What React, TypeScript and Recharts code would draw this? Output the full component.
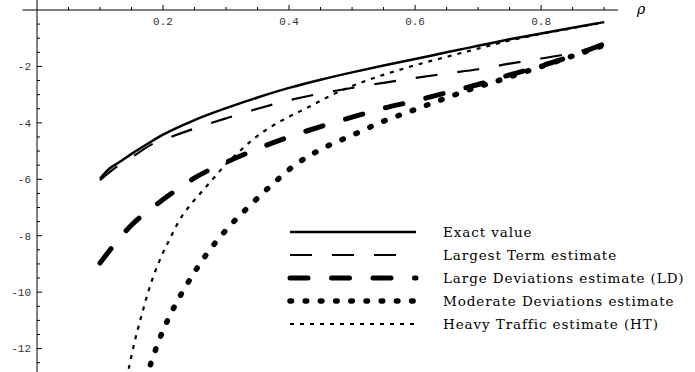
import React from 'react';
import { LineChart, Line, XAxis, YAxis, ReferenceLine, Legend } from 'recharts';

// ---- data ----
const exactRho = [0.1, 0.115, 0.131, 0.15, 0.175, 0.2, 0.25, 0.3, 0.35, 0.4, 0.45, 0.5, 0.55, 0.6, 0.65, 0.7, 0.75, 0.8, 0.85, 0.9];
const exactVal = [-5.98, -5.62, -5.39, -5.1, -4.75, -4.42, -3.9, -3.48, -3.1, -2.76, -2.47, -2.21, -1.97, -1.74, -1.5, -1.27, -1.04, -0.83, -0.63, -0.43];

const ltRho = [0.1, 0.125, 0.155, 0.184, 0.2, 0.25, 0.3, 0.35, 0.4, 0.45, 0.5, 0.55, 0.6, 0.65, 0.7, 0.75, 0.8, 0.85, 0.9];
const ltVal = [-6.03, -5.58, -5.15, -4.74, -4.6, -4.2, -3.84, -3.5, -3.2, -2.96, -2.76, -2.58, -2.41, -2.25, -2.1, -1.9, -1.72, -1.52, -1.22];

const ldRho = [0.1, 0.125, 0.15, 0.175, 0.2, 0.25, 0.3, 0.35, 0.4, 0.45, 0.5, 0.55, 0.6, 0.65, 0.7, 0.75, 0.8, 0.85, 0.9];
const ldVal = [-8.97, -8.25, -7.62, -7.14, -6.72, -5.95, -5.4, -4.92, -4.5, -4.13, -3.8, -3.48, -3.22, -2.93, -2.64, -2.3, -1.98, -1.62, -1.2];

const mdRho = [0.165, 0.178, 0.195, 0.216, 0.24, 0.268, 0.3, 0.335, 0.372, 0.409, 0.454, 0.5, 0.549, 0.596, 0.643, 0.692, 0.738, 0.81, 0.9];
const mdVal = [-13.6, -12.7, -11.63, -10.6, -9.65, -8.69, -7.8, -6.99, -6.21, -5.5, -4.9, -4.44, -3.95, -3.56, -3.17, -2.78, -2.46, -1.93, -1.25];

const htRho = [0.138, 0.145, 0.155, 0.165, 0.175, 0.185, 0.197, 0.211, 0.226, 0.243, 0.261, 0.282, 0.295, 0.32, 0.343, 0.372, 0.401, 0.432, 0.46, 0.491, 0.523, 0.555, 0.6, 0.65, 0.7, 0.75, 0.8, 0.85, 0.9];
const htVal = [-13.4, -12.76, -11.75, -10.9, -10.1, -9.42, -8.75, -8.1, -7.45, -6.92, -6.45, -5.92, -5.58, -5.04, -4.58, -4.13, -3.77, -3.43, -3.1, -2.78, -2.5, -2.26, -1.96, -1.66, -1.37, -1.08, -0.85, -0.64, -0.44];

const seriesNames = [
  'Exact value',
  'Largest Term estimate',
  'Large Deviations estimate (LD)',
  'Moderate Deviations estimate',
  'Heavy Traffic estimate (HT)',
];

const xTicks = [0.05, 0.1, 0.15, 0.2, 0.25, 0.3, 0.35, 0.4, 0.45, 0.5, 0.55, 0.6, 0.65, 0.7, 0.75, 0.8, 0.85, 0.9];
const xLabelTicks = [0.2, 0.4, 0.6, 0.8];
const yTicks = [-12.5, -12, -11.5, -11, -10.5, -10, -9.5, -9, -8.5, -8, -7.5, -7, -6.5, -6, -5.5, -5, -4.5, -4, -3.5, -3, -2.5, -2, -1.5, -1, -0.5];
const yLabelTicks = [-12, -10, -8, -6, -4, -2];

const xDomain = [0, 0.922];
const yDomain = [-12.83, 0];

// ---- helpers ----
const rows = (xs: number[], ys: number[]) => xs.map((rho, i) => ({ rho, v: ys[i] }));
const isIn = (arr: number[], v: number) => arr.some((a) => Math.abs(a - v) < 1e-9);

const styles = [
  { strokeWidth: 2.5, dash: undefined as string | undefined, cap: 'butt' },
  { strokeWidth: 2.2, dash: '22 20', cap: 'butt' },
  { strokeWidth: 5, dash: '18 23.5', cap: 'round' },
  { strokeWidth: 5.5, dash: '1.5 13.7', cap: 'round' },
  { strokeWidth: 2.2, dash: '4 6', cap: 'butt' },
];

const seriesData = [
  rows(exactRho, exactVal),
  rows(ltRho, ltVal),
  rows(ldRho, ldVal),
  rows(mdRho, mdVal),
  rows(htRho, htVal),
];

const tickFont = '"Liberation Mono", "DejaVu Sans Mono", monospace';
const serifFont = '"DejaVu Serif", "Liberation Serif", serif';

const XTick = (props: any) => {
  const { x, y, payload } = props;
  const major = isIn(xLabelTicks, payload.value);
  return (
    <g>
      <line x1={x} y1={y} x2={x} y2={y - (major ? 5 : 3)} stroke="#000" strokeWidth={1} />
      {major && (
        <text x={x} y={y + 15} textAnchor="middle" fontFamily={tickFont} fontSize={11} fill="#333">
          {payload.value.toFixed(1)}
        </text>
      )}
    </g>
  );
};

const YTick = (props: any) => {
  const { x, y, payload } = props;
  const major = isIn(yLabelTicks, payload.value);
  return (
    <g>
      <line x1={x} y1={y} x2={x + (major ? 5 : 3)} y2={y} stroke="#000" strokeWidth={1} />
      {major && (
        <text x={x - 6} y={y} dy="0.35em" textAnchor="end" fontFamily={tickFont} fontSize={11} fill="#333">
          {String(payload.value)}
        </text>
      )}
    </g>
  );
};

const LegendContent = () => (
  <svg width={409} height={118} style={{ display: 'block' }}>
    {seriesNames.map((name, i) => {
      const cy = 12 + i * 23;
      const s = styles[i];
      return (
        <g key={name}>
          <line
            x1={4}
            x2={130}
            y1={cy}
            y2={cy}
            stroke="#000"
            strokeWidth={s.strokeWidth}
            strokeDasharray={s.dash}
            strokeLinecap={s.cap as any}
          />
          <text x={157} y={cy} dy="0.35em" fontFamily={serifFont} fontSize={13.5} letterSpacing={0.9} fill="#000">
            {name}
          </text>
        </g>
      );
    })}
  </svg>
);

export default function App() {
  return (
    <div style={{ position: 'absolute', left: 0, top: 0, width: 695, height: 372, background: '#fff' }}>
      <LineChart width={695} height={372} margin={{ top: 9, right: 77, left: 36, bottom: 0 }}>
        <XAxis
          type="number"
          dataKey="rho"
          orientation="top"
          domain={xDomain}
          allowDataOverflow
          ticks={xTicks}
          interval={0}
          height={1}
          tickSize={0}
          tickMargin={0}
          tickLine={false}
          axisLine={{ stroke: '#000', strokeWidth: 1 }}
          tick={<XTick />}
        />
        <YAxis
          type="number"
          domain={yDomain}
          allowDataOverflow
          ticks={yTicks}
          interval={0}
          width={1}
          tickSize={0}
          tickMargin={0}
          tickLine={false}
          axisLine={{ stroke: '#000', strokeWidth: 1 }}
          tick={<YTick />}
        />
        <ReferenceLine
          segment={[{ x: -0.023, y: 0 }, { x: 0, y: 0 }]}
          ifOverflow="visible"
          stroke="#000"
          strokeWidth={1}
        />
        <ReferenceLine
          segment={[{ x: 0, y: 0 }, { x: 0, y: 0.35 }]}
          ifOverflow="visible"
          stroke="#000"
          strokeWidth={1}
        />
        {seriesData.map((d, i) => (
          <Line
            key={seriesNames[i]}
            data={d}
            dataKey="v"
            name={seriesNames[i]}
            type="monotone"
            stroke="#000"
            strokeWidth={styles[i].strokeWidth}
            strokeDasharray={styles[i].dash}
            strokeLinecap={styles[i].cap as any}
            dot={false}
            activeDot={false}
            isAnimationActive={false}
          />
        ))}
        <Legend
          layout="horizontal"
          verticalAlign="middle"
          align="center"
          content={<LegendContent />}
          wrapperStyle={{ position: 'absolute', left: 286, top: 220, width: 409, height: 118 }}
        />
      </LineChart>
      <div
        style={{
          position: 'absolute',
          left: 637,
          top: 1,
          fontFamily: serifFont,
          fontStyle: 'italic',
          fontSize: 14,
          lineHeight: '16px',
        }}
      >
        ρ
      </div>
    </div>
  );
}
